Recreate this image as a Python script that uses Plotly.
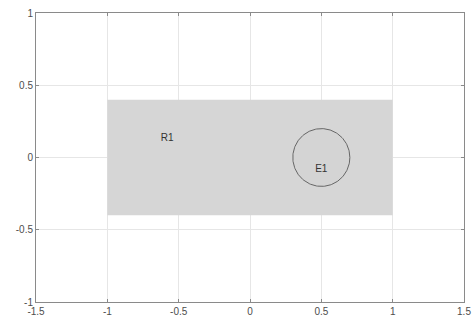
import plotly.graph_objects as go
import numpy as np

# Geometry data
rect_x = [-1.0, 1.0]
rect_y = [-0.4, 0.4]
circle_center = [0.5, 0.0]
circle_radius = [0.2]
label_names = ["R1", "E1"]
label_x = [-0.58, 0.5]
label_y = [0.13, -0.08]
x_ticks = [-1.5, -1, -0.5, 0, 0.5, 1, 1.5]
x_tick_text = ["-1.5", "-1", "-0.5", "0", "0.5", "1", "1.5"]
y_ticks = [-1, -0.5, 0, 0.5, 1]
y_tick_text = ["-1", "-0.5", "0", "0.5", "1"]

fig = go.Figure()

# Rectangle R1
fig.add_trace(go.Scatter(
    x=[rect_x[0], rect_x[1], rect_x[1], rect_x[0], rect_x[0]],
    y=[rect_y[0], rect_y[0], rect_y[1], rect_y[1], rect_y[0]],
    mode="lines", fill="toself", fillcolor="#d6d6d6",
    line=dict(width=0, color="rgba(0,0,0,0)"), hoverinfo="skip", showlegend=False))

# Circle E1
t = np.linspace(0, 2 * np.pi, 200)
cx = circle_center[0] + circle_radius[0] * np.cos(t)
cy = circle_center[1] + circle_radius[0] * np.sin(t)
fig.add_trace(go.Scatter(
    x=cx, y=cy, mode="lines", fill="toself", fillcolor="#d4d4d4",
    line=dict(width=1, color="#666666"), hoverinfo="skip", showlegend=False))

fig.add_trace(go.Scatter(
    x=label_x, y=label_y, mode="text", text=label_names,
    textfont=dict(family="Liberation Sans, Arial", size=10, color="#333333"),
    hoverinfo="skip", showlegend=False))

axis_common = dict(
    showgrid=True, gridcolor="#e6e6e6", gridwidth=1,
    showline=True, linecolor="#8a8a8a", linewidth=1, mirror="ticks",
    ticks="inside", ticklen=3, tickcolor="#8a8a8a",
    tickfont=dict(family="Liberation Sans, Arial", size=10, color="#4d4d4d"),
    zeroline=False, fixedrange=True, automargin=False,
)

fig.update_layout(
    width=474, height=328,
    margin=dict(l=36, r=10, t=13, b=26, autoexpand=False),
    paper_bgcolor="white", plot_bgcolor="white",
    xaxis=dict(range=[-1.5, 1.5], tickvals=x_ticks, ticktext=x_tick_text, **axis_common),
    yaxis=dict(range=[-1, 1], tickvals=y_ticks, ticktext=y_tick_text, **axis_common),
    showlegend=False,
)

fig.write_html("out.html")
